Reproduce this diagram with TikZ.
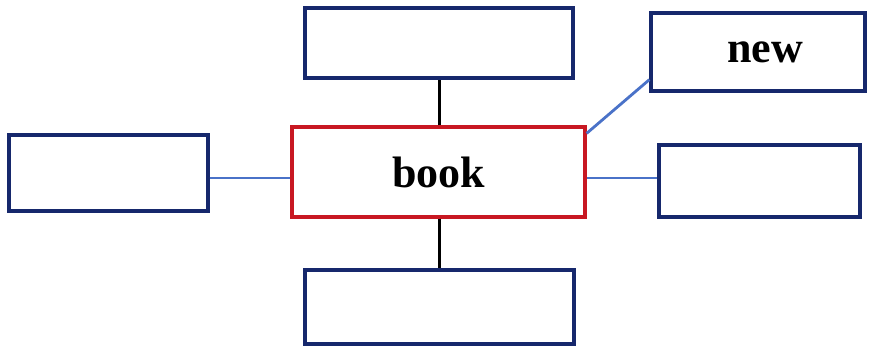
\documentclass[tikz,border=0pt]{standalone}
\usepackage{fontspec}
\setmainfont{Liberation Serif}
\definecolor{boxblue}{RGB}{22,40,108}
\definecolor{boxred}{RGB}{200,24,34}
\definecolor{lineblue}{RGB}{74,114,200}
\begin{document}
\begin{tikzpicture}[x=1pt,y=-1pt,
  bluebox/.style={draw=boxblue,line width=3.2pt,fill=white,inner sep=0pt},
  redbox/.style={draw=boxred,line width=3.2pt,fill=white,inner sep=0pt},
  blueline/.style={draw=lineblue,line width=2.8pt},
  blackline/.style={draw=black,line width=3.6pt},
  lbl/.style={font=\fontsize{44}{50}\selectfont\bfseries}]
\useasboundingbox[fill=white] (0,0) rectangle (875,349);
\node[bluebox,minimum width=268pt,minimum height=70pt] (top) at (439,43) {};
\node[redbox,minimum width=293pt,minimum height=90pt,lbl] (book) at (438.5,172) {book};
\node[bluebox,minimum width=199pt,minimum height=76pt] (left) at (108.5,173) {};
\node[bluebox,minimum width=201pt,minimum height=72pt] (right) at (759.5,181) {};
\node[bluebox,minimum width=214pt,minimum height=78pt] (new) at (758,52) {};
\node[lbl] (newtext) at (new.center) [xshift=7pt] {new};
\node[bluebox,minimum width=269pt,minimum height=74pt] (bottom) at (439.5,307) {};
\draw[blackline] ([xshift=1pt]book.north) -- ([xshift=1pt]book.north |- top.south);
\draw[blackline] ([xshift=1pt]book.south) -- ([xshift=1pt]book.south |- bottom.north);
\draw[blueline] ([yshift=-5pt]left.east) -- ([yshift=-5pt]left.east -| book.west);
\draw[blueline] ([yshift=3pt]right.west) -- ([yshift=3pt]right.west -| book.east);
\draw[blueline] ([yshift=-8pt]book.north east) -- ([yshift=13pt]new.south west);
\end{tikzpicture}
\end{document}
